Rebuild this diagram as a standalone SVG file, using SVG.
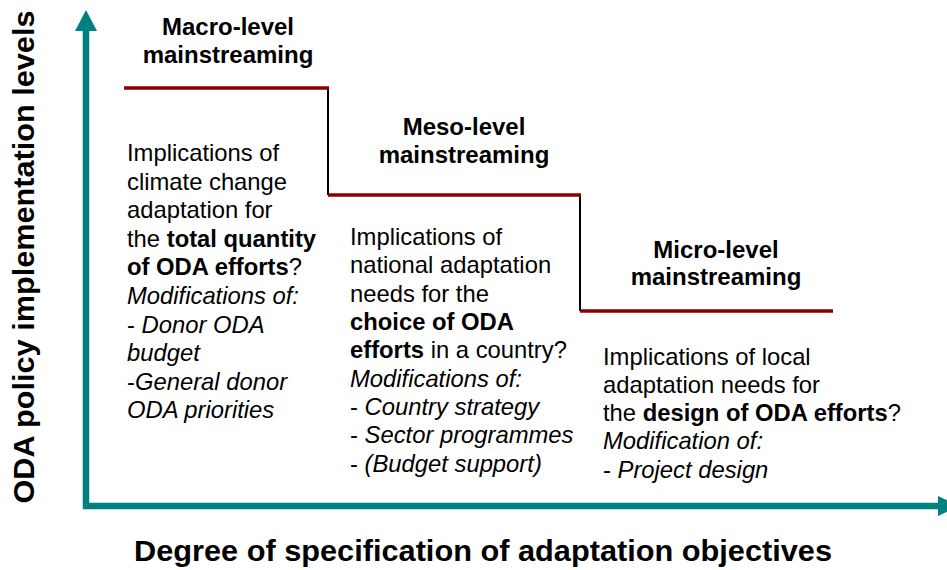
<svg xmlns="http://www.w3.org/2000/svg" width="947" height="570" viewBox="0 0 947 570">
<style>
  text { font-family: "Liberation Sans", Arial, sans-serif; fill: #000; }
  .hd { font-size: 24px; font-weight: bold; text-anchor: middle; }
  .bd { font-size: 23.8px; }
  .b { font-weight: bold; }
  .i { font-style: italic; }
  .ax { font-size: 29.5px; font-weight: bold; }
  .step { stroke: #8B0000; stroke-width: 3.5; fill: none; }
  .riser { stroke: #000; stroke-width: 2; fill: none; }
</style>
<rect width="947" height="570" fill="#fff"/>

<g id="axes">
  <path d="M86,30 V506 H940" stroke="#008080" stroke-width="6.5" fill="none" stroke-linejoin="miter"/>
  <polygon points="86,10 75,31 97,31" fill="#008080"/>
  <polygon points="938,496 938,516 959,506" fill="#008080"/>
  <text class="ax" x="0" y="0" transform="translate(34,257) rotate(-90)" text-anchor="middle" textLength="493" lengthAdjust="spacingAndGlyphs">ODA policy implementation levels</text>
  <text class="ax" x="483" y="561" text-anchor="middle" textLength="698" lengthAdjust="spacingAndGlyphs">Degree of specification of adaptation objectives</text>
</g>

<g id="connectors">
  <line class="riser" x1="328" y1="88" x2="328" y2="195"/>
  <line class="riser" x1="580" y1="195" x2="580" y2="311"/>
  <line class="step" x1="124" y1="88" x2="329" y2="88"/>
  <line class="step" x1="328" y1="195" x2="581" y2="195"/>
  <line class="step" x1="580" y1="311" x2="833" y2="311"/>
</g>

<g id="macro">
  <text class="hd" x="228" y="35">Macro-level</text>
  <text class="hd" x="228" y="63">mainstreaming</text>
  <text class="bd" x="127" y="161">Implications of</text>
  <text class="bd" x="127" y="190">climate change</text>
  <text class="bd" x="127" y="218">adaptation for</text>
  <text class="bd" x="127" y="247">the <tspan class="b">total quantity</tspan></text>
  <text class="bd" x="127" y="275"><tspan class="b">of ODA efforts</tspan>?</text>
  <text class="bd i" x="127" y="304">Modifications of:</text>
  <text class="bd" x="127" y="333">- <tspan class="i">Donor ODA</tspan></text>
  <text class="bd i" x="127" y="361">budget</text>
  <text class="bd" x="127" y="390">-<tspan class="i">General donor</tspan></text>
  <text class="bd i" x="127" y="418">ODA priorities</text>
</g>

<g id="meso">
  <text class="hd" x="464" y="135">Meso-level</text>
  <text class="hd" x="464" y="163">mainstreaming</text>
  <text class="bd" x="350" y="245">Implications of</text>
  <text class="bd" x="350" y="273">national adaptation</text>
  <text class="bd" x="350" y="302">needs for the</text>
  <text class="bd b" x="350" y="330">choice of ODA</text>
  <text class="bd" x="350" y="358"><tspan class="b">efforts</tspan> in a country?</text>
  <text class="bd i" x="350" y="387">Modifications of:</text>
  <text class="bd" x="350" y="415">- <tspan class="i">Country strategy</tspan></text>
  <text class="bd" x="350" y="443">- <tspan class="i">Sector programmes</tspan></text>
  <text class="bd" x="350" y="472">- <tspan class="i">(Budget support)</tspan></text>
</g>

<g id="micro">
  <text class="hd" x="716" y="258">Micro-level</text>
  <text class="hd" x="716" y="285">mainstreaming</text>
  <text class="bd" x="603" y="365">Implications of local</text>
  <text class="bd" x="603" y="393">adaptation needs for</text>
  <text class="bd" x="603" y="421">the <tspan class="b">design of ODA efforts</tspan>?</text>
  <text class="bd i" x="603" y="449">Modification of:</text>
  <text class="bd" x="603" y="478">- <tspan class="i">Project design</tspan></text>
</g>
</svg>
